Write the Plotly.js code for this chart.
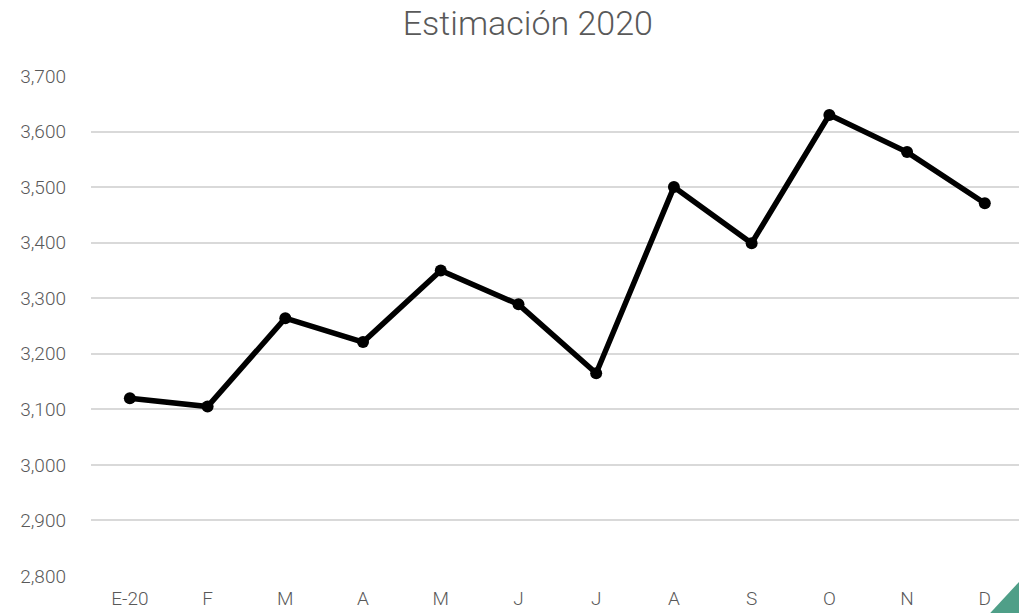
<!DOCTYPE html>
<html>
<head>
<meta charset="utf-8">
<script src="https://cdn.plot.ly/plotly-3.0.1.min.js"></script>
<style>
  html, body { margin: 0; padding: 0; background: #fff; }
  #chart { width: 1019px; height: 613px; }
</style>
</head>
<body>
<div id="chart"></div>
<script>
// Meses (etiquetas del eje x)
const months = ['E-20', 'F', 'M', 'A', 'M', 'J', 'J', 'A', 'S', 'O', 'N', 'D'];
// Estimación mensual
const estimate = [3120, 3105, 3264, 3221, 3350, 3289, 3165, 3500, 3399, 3630, 3563, 3471];
const yTicks = [2800, 2900, 3000, 3100, 3200, 3300, 3400, 3500, 3600, 3700];

// posiciones de categoria (hay meses repetidos: M, J, A)
const xIdx = months.map((m, i) => i);

const trace = {
    x: xIdx,
    y: estimate,
    type: 'scatter',
    mode: 'lines+markers',
    line: { color: '#000000', width: 5.5 },
    marker: { color: '#000000', size: 12 },
    hoverinfo: 'y'
};

const tickFont = { family: 'Roboto, sans-serif', size: 19, color: '#595959', weight: 300 };

const layout = {
    width: 1019,
    height: 613,
    margin: { l: 91, r: 0, t: 76, b: 37 },
    paper_bgcolor: '#ffffff',
    plot_bgcolor: '#ffffff',
    showlegend: false,
    title: {
        text: 'Estimación 2020',
        font: { family: 'Roboto, sans-serif', size: 34, color: '#595959', weight: 300 },
        x: 0.518,
        xanchor: 'center',
        y: 0.963,
        yanchor: 'middle'
    },
    xaxis: {
        range: [-0.5, 11.44],
        tickmode: 'array',
        tickvals: xIdx,
        ticktext: months,
        showgrid: false,
        zeroline: false,
        showline: false,
        tickfont: tickFont,
        ticks: '',
        ticklabelstandoff: 9
    },
    yaxis: {
        range: [2800, 3700],
        tickmode: 'array',
        tickvals: yTicks,
        ticktext: yTicks.map(v => v.toLocaleString('en-US')),
        showgrid: true,
        gridcolor: '#d9d9d9',
        gridwidth: 2,
        zeroline: false,
        showline: false,
        tickfont: tickFont,
        ticks: '',
        ticklabelstandoff: 24
    },
    shapes: [
        // esquina verde abajo a la derecha
        {
            type: 'path',
            xref: 'paper', yref: 'paper',
            path: 'M 0.969 -0.074 L 1 -0.074 L 1 -0.012 Z',
            fillcolor: '#4f9f88',
            line: { width: 0 }
        }
    ]
};

Plotly.newPlot('chart', [trace], layout, { displayModeBar: false, staticPlot: true });
</script>
</body>
</html>
